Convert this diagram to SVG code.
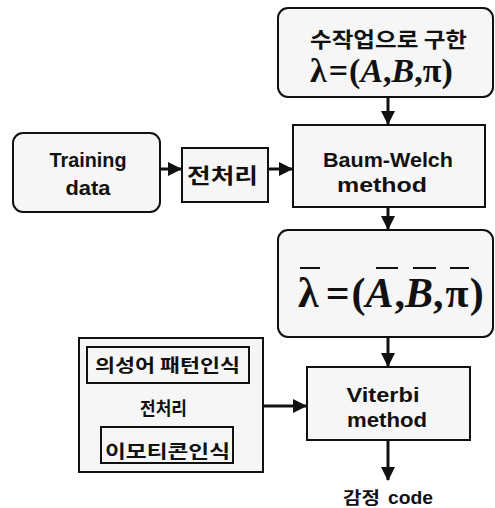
<svg xmlns="http://www.w3.org/2000/svg" width="495" height="508" viewBox="0 0 495 508">
<style>
.box{fill:#f6f6f6;stroke:#111;stroke-width:2}
.kr{font-family:"Noto Sans CJK KR","Noto Sans",sans-serif;font-weight:700;fill:#111}
.en{font-family:"Liberation Sans",Arial,sans-serif;font-weight:700;fill:#111}
.math{font-family:"Liberation Serif","Times New Roman",serif;font-weight:700;fill:#111}
.it{font-style:italic}
.conn{stroke:#111;stroke-width:3;fill:none}
.ov{stroke:#111;stroke-width:2}
</style>
<defs>
<marker id="arr" markerUnits="userSpaceOnUse" markerWidth="14" markerHeight="14" refX="13" refY="7" orient="auto">
<path d="M0,0 L14,7 L0,14 Z" fill="#111"/>
</marker>
</defs>
<rect width="495" height="508" fill="#fff"/>
<g id="connectors">
<line class="conn" x1="388" y1="97" x2="388" y2="124" marker-end="url(#arr)"/>
<line class="conn" x1="160" y1="169" x2="181" y2="169" marker-end="url(#arr)"/>
<line class="conn" x1="268" y1="169" x2="292" y2="169" marker-end="url(#arr)"/>
<line class="conn" x1="388" y1="207" x2="388" y2="229" marker-end="url(#arr)"/>
<line class="conn" x1="388" y1="337" x2="388" y2="366" marker-end="url(#arr)"/>
<line class="conn" x1="263" y1="406" x2="306" y2="406" marker-end="url(#arr)"/>
<line class="conn" x1="388" y1="440" x2="388" y2="480" marker-end="url(#arr)"/>
</g>
<g id="init-model">
<rect class="box" x="278" y="8" width="215" height="89" rx="10"/>
<text class="kr" x="310" y="47" font-size="21" textLength="157" lengthAdjust="spacingAndGlyphs">수작업으로 구한</text>
<text class="math" x="310" y="82" font-size="34">λ<tspan dx="2">=</tspan><tspan dx="1">(</tspan><tspan class="it">A</tspan>,<tspan class="it">B</tspan>,π)</text>
</g>
<g id="training-data">
<rect class="box" x="13" y="133" width="147" height="79" rx="10"/>
<text class="en" x="88" y="167" font-size="21" text-anchor="middle" textLength="77" lengthAdjust="spacingAndGlyphs">Training</text>
<text class="en" x="88" y="195" font-size="21" text-anchor="middle" textLength="45" lengthAdjust="spacingAndGlyphs">data</text>
</g>
<g id="preprocess1">
<rect class="box" x="182" y="148" width="86" height="54"/>
<text class="kr" x="187" y="183" font-size="21" textLength="71" lengthAdjust="spacingAndGlyphs">전처리</text>
</g>
<g id="baum-welch">
<rect class="box" x="293" y="125" width="192" height="82"/>
<text class="en" x="388" y="167" font-size="21" text-anchor="middle" textLength="130" lengthAdjust="spacingAndGlyphs">Baum-Welch</text>
<text class="en" x="382" y="192" font-size="21" text-anchor="middle" textLength="90" lengthAdjust="spacingAndGlyphs">method</text>
</g>
<g id="trained-model">
<rect class="box" x="278" y="230" width="215" height="107" rx="10"/>
<text class="math" x="298" y="307" font-size="42">λ<tspan dx="7">=</tspan><tspan dx="2">(</tspan><tspan class="it">A</tspan><tspan dx="1">,</tspan><tspan class="it">B</tspan>,<tspan dx="2">π</tspan><tspan dx="1">)</tspan></text>
<line class="ov" x1="300" y1="268" x2="320" y2="268"/>
<line class="ov" x1="376" y1="268" x2="398" y2="268"/>
<line class="ov" x1="413" y1="268" x2="436" y2="268"/>
<line class="ov" x1="450" y1="268" x2="469" y2="268"/>
</g>
<g id="preprocess2">
<rect class="box" x="79" y="338" width="184" height="134"/>
<rect class="box" x="87" y="347" width="162" height="36"/>
<text class="kr" x="95" y="372" font-size="18" textLength="145" lengthAdjust="spacingAndGlyphs">의성어 패턴인식</text>
<text class="kr" x="140" y="415" font-size="18" textLength="47" lengthAdjust="spacingAndGlyphs">전처리</text>
<rect class="box" x="101" y="427" width="132" height="36"/>
<text class="kr" x="105" y="458" font-size="18" textLength="125" lengthAdjust="spacingAndGlyphs">이모티콘인식</text>
</g>
<g id="viterbi">
<rect class="box" x="307" y="367" width="163" height="73"/>
<text class="en" x="383" y="402" font-size="21" text-anchor="middle" textLength="73" lengthAdjust="spacingAndGlyphs">Viterbi</text>
<text class="en" x="387" y="427" font-size="21" text-anchor="middle" textLength="80" lengthAdjust="spacingAndGlyphs">method</text>
</g>
<g id="output">
<text y="504"><tspan class="kr" x="343" font-size="17" textLength="37" lengthAdjust="spacingAndGlyphs">감정</tspan><tspan class="en" x="388" font-size="19" textLength="45" lengthAdjust="spacingAndGlyphs">code</tspan></text>
</g>
</svg>
